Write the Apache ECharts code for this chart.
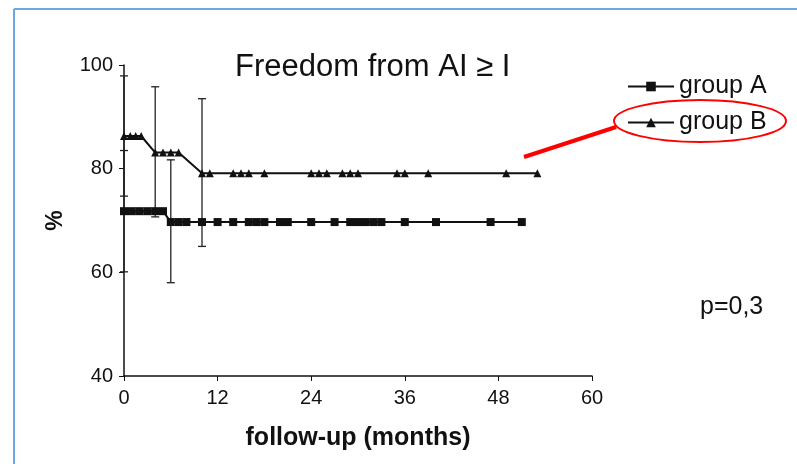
<!DOCTYPE html>
<html>
<head>
<meta charset="utf-8">
<script src="https://cdn.jsdelivr.net/npm/echarts@6/dist/echarts.min.js"></script>
<style>
  html, body { margin: 0; padding: 0; background: #fff; }
  #chart { width: 797px; height: 464px; }
</style>
</head>
<body>
<div id="chart"></div>
<script>
// group A (squares)
var monthsA = [0, 1, 2, 3, 4, 5, 6, 7, 8, 10, 12, 14, 16, 17, 18, 20, 21, 24, 27, 29, 30, 31, 32, 33, 36, 40, 47, 51];
var valuesA = [71.8, 71.8, 71.8, 71.8, 71.8, 71.8, 69.7, 69.7, 69.7, 69.7, 69.7, 69.7, 69.7, 69.7, 69.7, 69.7, 69.7, 69.7, 69.7, 69.7, 69.7, 69.7, 69.7, 69.7, 69.7, 69.7, 69.7, 69.7];
// group B (triangles)
var monthsB = [0, 0.8, 1.5, 2.2, 4, 5, 6, 7, 10, 11, 14, 15, 16, 18, 24, 25, 26, 28, 29, 30, 35, 36, 39, 49, 53];
var valuesB = [86.3, 86.3, 86.3, 86.3, 83.1, 83.1, 83.1, 83.1, 79.1, 79.1, 79.1, 79.1, 79.1, 79.1, 79.1, 79.1, 79.1, 79.1, 79.1, 79.1, 79.1, 79.1, 79.1, 79.1, 79.1];
// error bars: [month, low, high]
var errorBars = [
  [0, 60.1, 83.5],
  [0, 74.7, 97.9],
  [4, 70.7, 95.8],
  [6, 58.0, 81.7],
  [10, 65.0, 93.5]
];
var xTicks = [0, 12, 24, 36, 48, 60];
var yTicks = [40, 60, 80, 100];

function pairs(xs, ys) {
  return xs.map(function (x, i) { return [x, ys[i]]; });
}

var chart = echarts.init(document.getElementById('chart'));
var font = 'Liberation Sans, Arial, sans-serif';

chart.setOption({
  animation: false,
  title: {
    text: 'Freedom from AI ≥ I',
    left: 230,
    top: 47,
    textStyle: { fontFamily: font, fontSize: 31, fontWeight: 'normal', color: '#111' }
  },
  legend: {
    orient: 'vertical',
    left: 622,
    top: 69,
    itemWidth: 46,
    itemHeight: 12,
    itemGap: 11,
    textStyle: { fontFamily: font, fontSize: 25, color: '#111' },
    data: ['group A', 'group B']
  },
  grid: { left: 124, right: 205, top: 65, bottom: 88 },
  xAxis: {
    type: 'value',
    min: xTicks[0],
    max: xTicks[xTicks.length - 1],
    interval: 12,
    name: 'follow-up (months)',
    nameLocation: 'middle',
    nameGap: 50,
    nameTextStyle: { fontFamily: font, fontSize: 25, fontWeight: 'bold', color: '#111' },
    axisLine: { lineStyle: { color: '#111', width: 1.5 } },
    axisTick: { length: 5, lineStyle: { color: '#111' } },
    axisLabel: { fontFamily: font, fontSize: 20, color: '#111', margin: 12 },
    splitLine: { show: false }
  },
  yAxis: {
    type: 'value',
    min: yTicks[0],
    max: yTicks[yTicks.length - 1],
    interval: 20,
    name: '%',
    nameLocation: 'middle',
    nameRotate: 90,
    nameGap: 57,
    nameTextStyle: { fontFamily: font, fontSize: 23, fontWeight: 'bold', color: '#111' },
    axisLine: { show: true, lineStyle: { color: '#111', width: 1.5 } },
    axisTick: { show: true, length: 5, lineStyle: { color: '#111' } },
    axisLabel: { fontFamily: font, fontSize: 20, color: '#111', margin: 11 },
    splitLine: { show: false }
  },
  series: [
    {
      name: 'group A',
      type: 'line',
      data: pairs(monthsA, valuesA),
      symbol: 'rect',
      symbolSize: 8,
      itemStyle: { color: '#111' },
      lineStyle: { color: '#111', width: 2 },
      z: 3
    },
    {
      name: 'group B',
      type: 'line',
      data: pairs(monthsB, valuesB),
      symbol: 'triangle',
      symbolSize: 8,
      itemStyle: { color: '#111' },
      lineStyle: { color: '#111', width: 2 },
      z: 3
    },
    {
      name: 'error',
      type: 'custom',
      data: errorBars,
      z: 2,
      renderItem: function (params, api) {
        var x = api.value(0);
        var lo = api.coord([x, api.value(1)]);
        var hi = api.coord([x, api.value(2)]);
        var cap = 4;
        var st = { stroke: '#222', lineWidth: 1.3 };
        return {
          type: 'group',
          children: [
            { type: 'line', shape: { x1: lo[0], y1: lo[1], x2: hi[0], y2: hi[1] }, style: st },
            { type: 'line', shape: { x1: hi[0] - cap, y1: hi[1], x2: hi[0] + cap, y2: hi[1] }, style: st },
            { type: 'line', shape: { x1: lo[0] - cap, y1: lo[1], x2: lo[0] + cap, y2: lo[1] }, style: st }
          ]
        };
      }
    }
  ],
  graphic: [
    // blue frame
    { type: 'line', shape: { x1: 14, y1: 9, x2: 797, y2: 9 }, style: { stroke: '#6ea6e0', lineWidth: 2 } },
    { type: 'line', shape: { x1: 14, y1: 9, x2: 14, y2: 464 }, style: { stroke: '#6ea6e0', lineWidth: 2 } },
    // red highlight
    { type: 'ellipse', shape: { cx: 700, cy: 121, rx: 86, ry: 21 }, style: { fill: 'none', stroke: '#ff0000', lineWidth: 2 } },
    { type: 'line', shape: { x1: 524, y1: 157, x2: 616, y2: 127 }, style: { stroke: '#ff0000', lineWidth: 4 } },
    // p value
    { type: 'text', left: 700, top: 295, style: { text: 'p=0,3', font: '25px ' + font, fill: '#111' } }
  ]
});
</script>
</body>
</html>
